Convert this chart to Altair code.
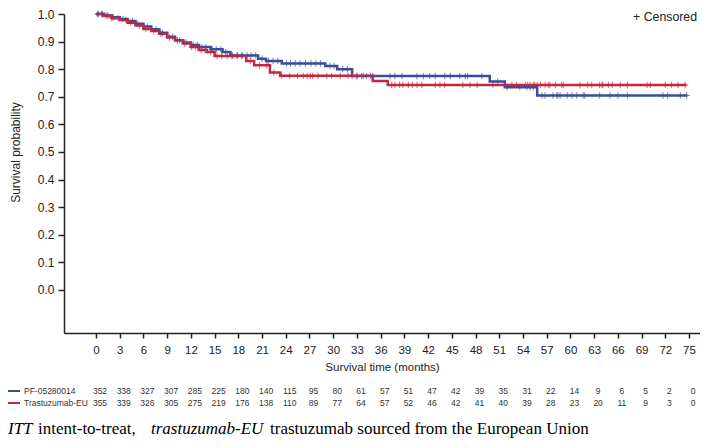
import altair as alt
import pandas as pd
import numpy as np

# ---------------- data ----------------
arms = ["PF-05280014", "Trastuzumab-EU"]

pf_time = [0, 1, 2, 3, 4, 5, 6, 7, 8, 9, 10, 11, 12, 13, 14.5, 16, 17, 20.5, 21.5, 23.5,
           29, 30.5, 32.4, 49.8, 51.7, 55.8]
pf_surv = [1.0, 0.995, 0.988, 0.982, 0.975, 0.965, 0.955, 0.945, 0.932, 0.918, 0.905, 0.897,
           0.888, 0.880, 0.872, 0.862, 0.850, 0.838, 0.830, 0.821, 0.812, 0.800, 0.775, 0.755,
           0.735, 0.705]
pf_end = 74.8

eu_time = [0, 1, 2, 3, 4, 5, 6, 7, 8, 9, 10, 11, 12, 13, 14, 15, 19, 20, 22, 23.3, 35, 36.9]
eu_surv = [1.0, 0.993, 0.985, 0.978, 0.968, 0.958, 0.946, 0.938, 0.928, 0.915, 0.905, 0.893,
           0.880, 0.870, 0.862, 0.848, 0.830, 0.814, 0.788, 0.776, 0.757, 0.743]
eu_end = 74.7

pf_cens = [0.3, 0.8, 1.5, 2.2, 3.4, 4.6, 5.3, 6.5, 7.6, 8.4, 9.7, 10.6, 11.4, 12.3, 12.8, 13.4,
           13.9, 14.7, 15.2, 15.8, 16.4, 17.3, 17.9, 18.5, 19.1, 19.6, 20.2, 21.0, 21.8, 22.4,
           23.0, 24.1, 24.6, 25.2, 25.8, 26.5, 27.2, 27.8, 28.4, 29.6, 30.1, 31.2, 31.8, 33.0,
           33.6, 34.2, 35.0, 37.2, 37.8, 38.7, 40.6, 41.4, 42.2, 42.9, 44.1, 44.8, 46.0, 46.7,
           47.0, 48.8, 50.8, 52.0, 53.6, 54.5, 54.9, 55.3, 56.4, 56.8, 57.8, 58.3, 58.4, 58.7,
           59.6, 60.2, 60.8, 61.6, 61.8, 63.7, 65.0, 66.0, 67.2, 71.7, 72.3, 73.9, 74.7]
eu_cens = [0.2, 0.7, 1.3, 2.0, 2.8, 3.8, 4.4, 5.5, 6.3, 7.3, 8.2, 9.3, 10.3, 11.2, 12.1, 12.6,
           13.3, 13.8, 14.5, 15.3, 15.9, 16.6, 17.2, 17.8, 18.4, 19.5, 20.7, 21.6, 22.5, 23.5,
           24.5, 25.5, 26.2, 26.7, 27.1, 27.4, 28.1, 29.2, 29.8, 30.9, 31.9, 32.4, 33.0, 33.8,
           34.7, 37.4, 37.8, 38.4, 38.8, 39.5, 40.0, 40.6, 41.2, 42.9, 43.5, 44.1, 46.4, 47.3,
           48.2, 50.2, 52.6, 53.2, 54.3, 54.6, 54.9, 55.3, 55.5, 55.8, 56.2, 56.8, 57.2, 57.4,
           58.1, 58.9, 59.1, 61.2, 62.2, 62.7, 63.7, 64.0, 64.1, 64.8, 65.3, 66.3, 67.2, 69.7,
           70.1, 72.0, 72.8, 73.6, 74.5]

risk_times = list(range(0, 76, 3))
pf_risk = [352, 338, 327, 307, 285, 225, 180, 140, 115, 95, 80, 61, 57, 51, 47, 42, 39, 35,
           31, 22, 14, 9, 6, 5, 2, 0]
eu_risk = [355, 339, 326, 305, 275, 219, 176, 138, 110, 89, 77, 64, 57, 52, 46, 42, 41, 40,
           39, 28, 23, 20, 11, 9, 3, 0]

footnote = [("ITT", "italic", 8), ("intent-to-treat,", "normal", 38),
            ("trastuzumab-EU", "italic", 151),
            ("trastuzumab sourced from the European Union", "normal", 270)]

BLUE = "#3a4d9f"
RED = "#c3283f"
TXT = "#222222"

# ---------------- frames ----------------
def step_df(times, surv, end, name):
    return pd.DataFrame({"time": list(times) + [end],
                         "surv": list(surv) + [surv[-1]], "arm": name})

def cens_df(times, surv, cens, name):
    idx = np.searchsorted(np.array(times), np.array(cens), side="right") - 1
    return pd.DataFrame({"time": cens, "surv": np.array(surv)[idx], "arm": name})

lines = pd.concat([step_df(pf_time, pf_surv, pf_end, arms[0]),
                   step_df(eu_time, eu_surv, eu_end, arms[1])])
cens = pd.concat([cens_df(pf_time, pf_surv, pf_cens, arms[0]),
                  cens_df(eu_time, eu_surv, eu_cens, arms[1])])
risk_pf = pd.DataFrame({"time": risk_times, "n": pf_risk})
risk_eu = pd.DataFrame({"time": risk_times, "n": eu_risk})
one = pd.DataFrame({"a": [0]})

# ---------------- scales/axes ----------------
ORX, ORY = 64, 14  # page coords of plot origin

xs = alt.Scale(domain=[-4.047, 76.39], nice=False, zero=False)
ys = alt.Scale(domain=[-0.1558, 1.0], nice=False, zero=False)
cs = alt.Scale(domain=arms, range=[BLUE, RED])

X = alt.X("time:Q", scale=xs, axis=alt.Axis(
    values=risk_times, title="Survival time (months)", tickSize=5, labelPadding=6,
    titlePadding=6, grid=False, labelFontSize=11.5, titleFontSize=11.5,
    titleFontWeight="normal", domainColor=TXT, tickColor=TXT, domainWidth=1.5,
    tickWidth=1.5, labelColor=TXT, titleColor=TXT, labelFont="Liberation Sans",
    titleFont="Liberation Sans"))
Y = alt.Y("surv:Q", scale=ys, axis=alt.Axis(
    values=[round(v * 0.1, 1) for v in range(11)], format=".1f",
    title="Survival probability", tickSize=6, labelPadding=4, grid=False,
    labelFontSize=12, titleFontSize=12, titleFontWeight="normal", domainColor=TXT,
    tickColor=TXT, domainWidth=1.5, tickWidth=1.5, labelColor=TXT, titleColor=TXT,
    labelFont="Liberation Sans", titleFont="Liberation Sans", titleX=15 - ORX,
    titleY=(14 + 290) / 2 - ORY, titleAlign="center", titleBaseline="middle",
    titleAngle=-90))
C = alt.Color("arm:N", scale=cs, legend=None)

line_layer = alt.Chart(lines).mark_line(interpolate="step-after", strokeWidth=2.5).encode(
    x=X, y=Y, color=C)
cens_layer = alt.Chart(cens).mark_point(
    shape="M-1,0L1,0M0,-1L0,1", size=42, filled=False, strokeWidth=1, opacity=0.7
).encode(x=X, y=Y, color=C)

def risk_layer(df, ypix):
    return alt.Chart(df).mark_text(fontSize=8.5, dx=4, color="#333333",
                                   font="Liberation Sans", baseline="middle").encode(
        x=X, y=alt.value(ypix), text="n:Q")

def label(text, px, py, **kw):
    return alt.Chart(one).mark_text(text=text, **kw).encode(
        x=alt.value(px - ORX), y=alt.value(py - ORY))

def seg(px1, px2, py, color):
    return alt.Chart(one).mark_rule(color=color, strokeWidth=2).encode(
        x=alt.value(px1 - ORX), x2=alt.value(px2 - ORX), y=alt.value(py - ORY))

extras = [
    risk_layer(risk_pf, 391 - ORY),
    risk_layer(risk_eu, 403 - ORY),
    seg(8, 20, 391, BLUE),
    seg(8, 20, 403, RED),
    label("PF-05280014", 24, 391, align="left", baseline="middle", fontSize=8.5,
          font="Liberation Sans", color="#333333"),
    label("Trastuzumab-EU", 24, 403, align="left", baseline="middle", fontSize=8.5,
          font="Liberation Sans", color="#333333"),
    label("+ Censored", 697, 17, align="right", baseline="middle", fontSize=12.3,
          font="Liberation Sans", color=TXT),
]
for txt, style, px in footnote:
    extras.append(label(txt, px, 434, align="left", baseline="alphabetic", fontSize=17,
                        font="Liberation Serif", fontStyle=style, color="#000000"))

chart = alt.layer(line_layer, cens_layer, *extras).properties(
    width=636, height=319,
    autosize=alt.AutoSizeParams(type="none"),
    padding={"left": 56, "top": 6, "right": 0, "bottom": 105},
).configure_view(stroke=None)

chart.save("out.html", embed_options={"renderer": "svg", "actions": False})
